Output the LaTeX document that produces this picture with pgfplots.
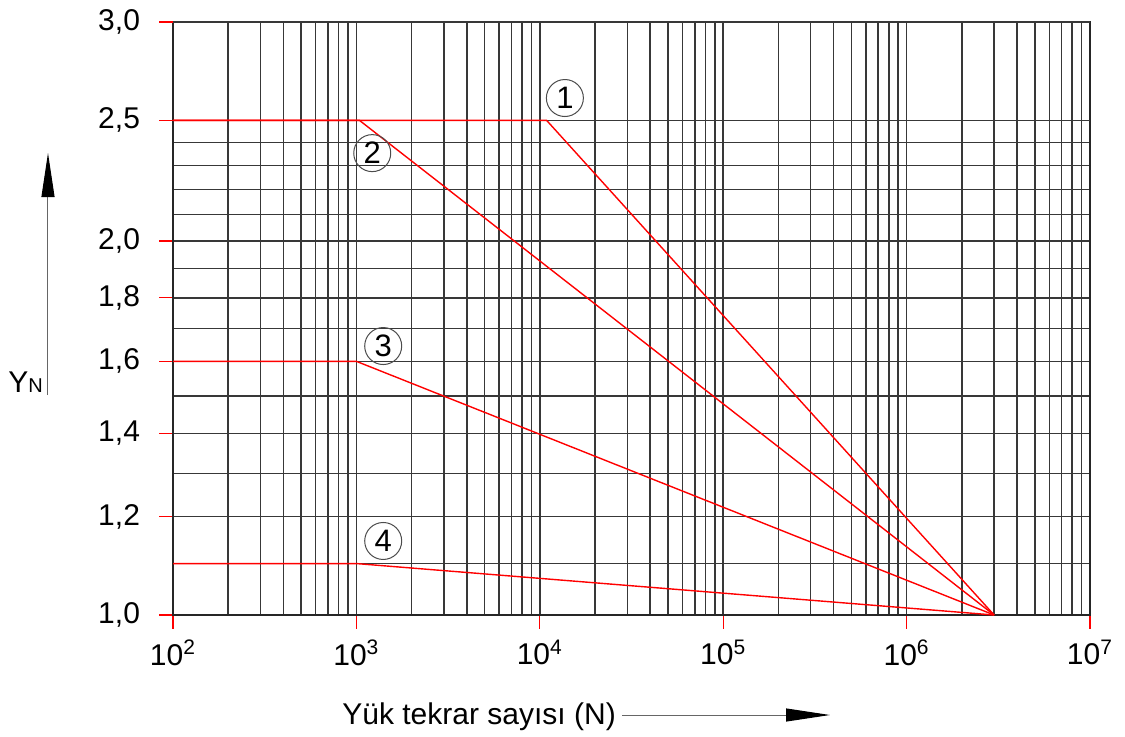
\documentclass[border=0pt]{standalone}
\usepackage{fontspec}
\setmainfont{Liberation Sans}
\usepackage{pgfplots}
\pgfplotsset{compat=1.18}
\usetikzlibrary{arrows.meta}
\begin{document}
\begin{tikzpicture}[font=\fontsize{15}{18}\selectfont]
\begin{axis}[
  scale only axis, width=458.5pt, height=296.5pt,
  xmode=log, ymode=log,
  xmin=100, xmax=1e7, ymin=1, ymax=3,
  xtick={1e2,1e3,1e4,1e5,1e6,1e7},
  xticklabels={10\textsuperscript{2},10\textsuperscript{3},10\textsuperscript{4},10\textsuperscript{5},10\textsuperscript{6},10\textsuperscript{7}},
  minor xtick={2e2,3e2,4e2,5e2,6e2,7e2,8e2,9e2,
               2e3,3e3,4e3,5e3,6e3,7e3,8e3,9e3,
               2e4,3e4,4e4,5e4,6e4,7e4,8e4,9e4,
               2e5,3e5,4e5,5e5,6e5,7e5,8e5,9e5,
               2e6,3e6,4e6,5e6,6e6,7e6,8e6,9e6},
  ytick={1,1.2,1.4,1.6,1.8,2},
  yticklabels={{1,0},{1,2},{1,4},{1,6},{1,8},{2,0}},
  minor ytick={1.1,1.3,1.5,1.7,1.9,2.1,2.2,2.3,2.4},
  extra y ticks={2.5,3},
  extra y tick labels={{2,5},{3,0}},
  extra y tick style={grid style={black!30, line width=0.5pt}},
  xmajorgrids, ymajorgrids, xminorgrids, yminorgrids,
  major grid style={black!78, line width=0.75pt},
  minor grid style={black!78, line width=0.75pt},
  tick align=outside, tick pos=left,
  major tick length=7pt, minor tick length=0pt,
  tick style={red, line width=0.6pt},
  axis line style={black!85, line width=0.75pt},
  tick label style={font=\fontsize{15}{18}\selectfont},
  xticklabel style={yshift=-2pt},
  yticklabel style={xshift=-6pt},
  clip=false,
]
\addplot[red, line width=0.7pt] coordinates {(100,2.5) (1.09e4,2.5) (3e6,1)};
\addplot[red, line width=0.7pt] coordinates {(100,2.5) (1.04e3,2.5) (3e6,1)};
\addplot[red, line width=0.7pt] coordinates {(100,1.6) (1e3,1.6) (3e6,1)};
\addplot[red, line width=0.7pt] coordinates {(100,1.1) (1e3,1.1) (3e6,1)};
\tikzset{circ/.style={circle, draw=black!70, line width=0.5pt, minimum size=18.5pt, inner sep=0pt, fill=white, fill opacity=0, text opacity=1, font=\fontsize{15.5}{15.5}\selectfont}}
\node[circ] at (axis cs:1.37e4,2.606) {1};
\node[circ] at (axis cs:1.22e3,2.353) {2};
\node[circ] at (axis cs:1.40e3,1.646) {3};
\node[circ] at (axis cs:1.40e3,1.147) {4};
\end{axis}
% y label with arrow
\node[anchor=base west, inner sep=0pt] at (-82.5pt,111.5pt) {Y{\fontsize{10}{10}\selectfont N}};
\draw[black!60, line width=0.5pt, -{Triangle[length=22pt,width=6.5pt,black]}] (-62.5pt,110pt) -- (-62.5pt,231pt);
% x label with arrow
\node[anchor=base west, inner sep=0pt] at (84.5pt,-54.5pt) {Yük tekrar sayısı (N)};
\draw[black!60, line width=0.5pt, -{Triangle[length=22pt,width=6.5pt,black]}] (224.5pt,-50pt) -- (328.5pt,-50pt);
\pgfresetboundingbox
\path[use as bounding box] (-86.5pt,-60.5pt) rectangle (476pt,307.5pt);
\end{tikzpicture}
\end{document}
